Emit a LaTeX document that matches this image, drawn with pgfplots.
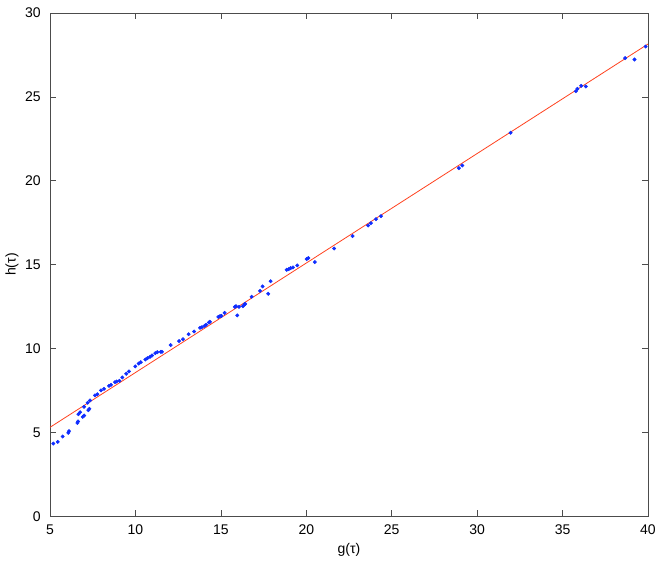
\documentclass[border=0pt]{standalone}
\usepackage{fontspec}
\setmainfont{Liberation Sans}
\usepackage{pgfplots}
\pgfplotsset{compat=1.18}
\definecolor{dotblue}{RGB}{15, 45, 255}
\definecolor{fitred}{RGB}{255, 65, 30}

\begin{document}
\begin{tikzpicture}
\begin{axis}[
name=ax,
scale only axis,
width=448pt, height=377pt,
xmin=5, xmax=40, ymin=0, ymax=30,
xtick={5,10,...,40}, ytick={0,5,...,30},
tick align=inside,
major tick length=4.5pt,
tick style={black!70, line width=0.5pt},
axis line style={black!70, line width=0.6pt},
/pgf/number format/assume math mode=true,
tick label style={font=\fontsize{10.5}{12}\selectfont},
label style={font=\fontsize{10.5}{12}\selectfont},
xticklabel style={yshift=-3pt},
yticklabel style={xshift=-3.5pt},
xlabel={g(τ)}, ylabel={h(τ)},
xlabel style={at={([yshift=-25pt]axis description cs:0.5,0)}, anchor=center},
ylabel style={at={([xshift=-28.5pt]axis description cs:0,0.5)}, anchor=center},
clip=false,
]
% fitted line
\addplot[fitred, line width=0.6pt] coordinates {(5,5.3) (40,28.15)};
% data
\addplot[only marks, mark=*, mark size=1.25pt, dotblue] coordinates {
(5.19,4.33) (5.45,4.43) (5.74,4.75) (6.07,4.97) (6.11,5.07)
(6.60,5.56) (6.64,5.65) (6.66,6.08) (6.76,6.20) (6.91,5.92) (7.00,6.00)
(6.99,6.52) (7.24,6.32) (7.30,6.40) (7.20,6.76) (7.34,6.90)
(7.63,7.20) (7.77,7.27) (7.98,7.50) (8.16,7.59) (8.45,7.77) (8.57,7.83)
(8.80,7.99) (8.90,8.03) (9.06,8.07) (9.23,8.27) (9.46,8.49) (9.62,8.63)
(9.99,8.93) (10.19,9.10) (10.31,9.18) (10.58,9.34) (10.70,9.42) (10.85,9.50)
(10.97,9.58) (11.16,9.72) (11.28,9.78) (11.48,9.80) (11.55,9.80)
(12.06,10.20) (12.55,10.44) (12.78,10.55) (13.11,10.85) (13.43,11.01)
(13.78,11.23) (13.89,11.27) (14.05,11.35) (14.13,11.41) (14.30,11.55) (14.36,11.59)
(14.85,11.88) (14.95,11.93) (15.03,11.94) (15.22,12.12)
(15.82,12.48) (15.88,12.52) (16.06,12.48) (15.96,11.97)
(16.29,12.52) (16.39,12.62) (16.42,12.66) (16.80,13.08)
(17.29,13.43) (17.44,13.70) (17.77,13.26) (17.91,14.01)
(18.85,14.69) (18.97,14.73) (19.08,14.79) (19.22,14.83) (19.47,14.95)
(20.02,15.33) (20.12,15.39) (20.50,15.15) (21.63,15.96) (22.71,16.70)
(23.62,17.33) (23.78,17.47) (24.08,17.71) (24.37,17.89)
(28.93,20.75) (29.13,20.91) (31.96,22.86)
(35.78,25.34) (35.87,25.48) (36.09,25.66) (36.36,25.62)
(38.66,27.31) (39.21,27.23) (39.86,28.00)
};
\end{axis}
\pgfresetboundingbox
\useasboundingbox ([shift={(-37.5pt,-34.5pt)}]ax.south west) rectangle ([shift={(12pt,9.75pt)}]ax.north east);
\end{tikzpicture}
\end{document}
